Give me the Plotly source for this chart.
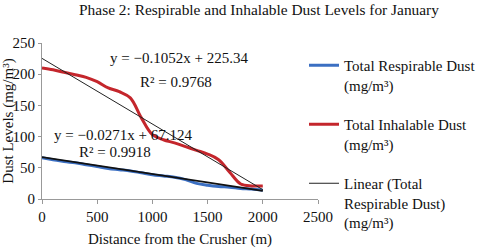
import plotly.graph_objects as go

distance = [0, 100, 200, 300, 400, 500, 600, 700, 800, 900, 1000,
            1100, 1200, 1300, 1400, 1500, 1600, 1700, 1800, 1900, 2000]
respirable = [66, 63, 60, 58, 55, 52, 49, 47, 45, 42, 39,
              37, 35, 31, 25, 22, 20, 19, 17, 16, 14]
inhalable = [210, 207, 203, 199, 195, 188, 178, 172, 162, 130, 103,
             95, 90, 84, 78, 72, 63, 43, 24, 21, 21]
trend_inh = (-0.1052, 225.34)
trend_resp = (-0.0271, 67.124)
trend_x = [0, 2000]

FONT = "Liberation Serif"

fig = go.Figure()
fig.add_trace(go.Scatter(x=distance, y=respirable, mode="lines",
                         line=dict(color="#3b6fc2", width=3, shape="spline"),
                         name="Total Respirable Dust<br>(mg/m³)", legendgroup="a"))
fig.add_trace(go.Scatter(x=distance, y=inhalable, mode="lines",
                         line=dict(color="#c4262c", width=3, shape="spline"),
                         name="Total Inhalable Dust<br>(mg/m³)", legendgroup="b"))
fig.add_trace(go.Scatter(x=trend_x, y=[trend_resp[0] * v + trend_resp[1] for v in trend_x],
                         mode="lines", line=dict(color="#111111", width=1.8),
                         showlegend=False, legendgroup="c"))
fig.add_trace(go.Scatter(x=trend_x, y=[trend_inh[0] * v + trend_inh[1] for v in trend_x],
                         mode="lines", line=dict(color="#222222", width=1),
                         name="Linear (Total<br>Respirable Dust)<br>(mg/m³)", legendgroup="c"))

ann = dict(showarrow=False, xref="paper", yref="paper", xanchor="center", yanchor="middle",
           font=dict(family=FONT, size=15, color="#111"))
def px(x, y):
    return (x - 42) / 276, (199 - y) / 156

for text, (x, y) in [("y = −0.1052x + 225.34", (179, 58)),
                     ("R² = 0.9768", (176, 82)),
                     ("y = −0.0271x + 67.124", (123, 135)),
                     ("R² = 0.9918", (115, 152))]:
    ax, ay = px(x, y)
    fig.add_annotation(text=text, x=ax, y=ay, **ann)

fig.update_layout(
    width=481, height=248,
    margin=dict(l=42, r=163, t=43, b=49, autoexpand=False),
    paper_bgcolor="white", plot_bgcolor="white",
    font=dict(family=FONT, size=15, color="#111"),
    title=dict(text="Phase 2: Respirable and Inhalable Dust Levels for January",
               x=259 / 481, xanchor="center", y=1 - 10 / 248, yanchor="middle",
               font=dict(family=FONT, size=15.4, color="#111")),
    legend=dict(xref="container", yref="container", x=304 / 481, y=1 - 49 / 248,
                xanchor="left", yanchor="top", valign="top", tracegroupgap=17,
                maxheight=240, bgcolor="rgba(0,0,0,0)",
                font=dict(family=FONT, size=15, color="#111"), itemwidth=30),
    xaxis=dict(range=[0, 2500], dtick=500, showgrid=False, zeroline=False,
               showline=True, linecolor="#999", linewidth=1, automargin=False,
               ticks="outside", ticklen=4, tickcolor="#999",
               title=dict(text="Distance from the Crusher (m)",
                          font=dict(family=FONT, size=15))),
    yaxis=dict(range=[0, 250], dtick=50, showgrid=False, zeroline=False,
               showline=True, linecolor="#999", linewidth=1, automargin=False,
               ticks="outside", ticklen=3, tickcolor="#999",
               title=dict(text="Dust Levels (mg/m³)",
                          font=dict(family=FONT, size=15))),
)

fig.write_html("out.html", config={"displayModeBar": False},
               post_script="document.body.style.margin='0';")
